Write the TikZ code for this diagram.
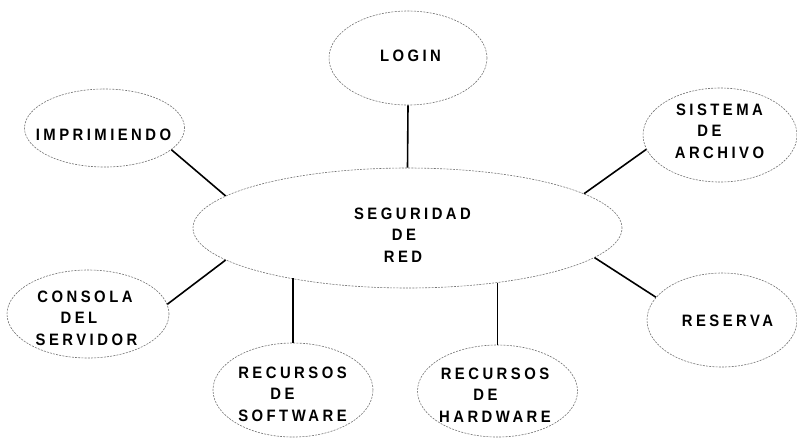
\documentclass[tikz,border=0pt]{standalone}
\usepackage{fontspec}
\setmainfont{Liberation Sans}
\newfontfamily\labfont[LetterSpace=21,FakeStretch=0.9]{Liberation Sans}
\usetikzlibrary{shapes.geometric}
\begin{document}
\begin{tikzpicture}[x=1pt,y=-1pt,
  bub/.style={ellipse, draw=black!55, line width=0.6pt, dash pattern=on 2pt off 1.2pt,
    inner sep=0pt},
  txt/.style={inner sep=0pt, align=center, font=\labfont\bfseries\fontsize{16.5}{21.5}\selectfont},
  link/.style={line width=1.6pt, draw=black}]
\useasboundingbox (0,0) rectangle (797,437);

% bubbles
\node[bub, minimum width=429pt, minimum height=120pt] (C) at (407.5,228) {};
\node[bub, minimum width=158pt, minimum height=94pt] (L) at (408,58) {};
\node[bub, minimum width=160pt, minimum height=78pt] (I) at (104.5,128) {};
\node[bub, minimum width=154pt, minimum height=94pt] (S) at (720,135) {};
\node[bub, minimum width=162pt, minimum height=88pt] (K) at (88,314) {};
\node[bub, minimum width=160pt, minimum height=94pt] (W) at (293,390) {};
\node[bub, minimum width=160pt, minimum height=92pt] (H) at (497.5,391) {};
\node[bub, minimum width=150pt, minimum height=94pt] (R) at (722,320) {};

% texts
\node[txt] (Ct) at (412.5,235) {SEGURIDAD\\DE\kern17pt\\RED\kern19pt};
\node[txt] (Lt) at (410.5,56) {LOGIN};
\node[txt] (It) at (103.5,134.5) {IMPRIMIENDO};
\node[txt] (St) at (719.5,131) {SISTEMA\\DE\kern20pt\\ARCHIVO};
\node[txt] (Kt) at (86.5,318.3) {CONSOLA\kern3pt\\DEL\kern15pt\\SERVIDOR};
\node[txt] (Wt) at (292.5,394) {RECURSOS\\DE\kern20pt\\SOFTWARE};
\node[txt] (Ht) at (495,395) {RECURSOS\\DE\kern19pt\\HARDWARE};
\node[txt] (Rt) at (727.5,321) {RESERVA};

% connectors
\draw[link] (L.south) -- (C.north);
\draw[link] (I.-18) -- (C.170.3);
\draw[link] (S.191.8) -- (C.11.2);
\draw[link] (K.7.8) -- (C.190.7);
\draw[link] (W.north) -- (C.203.9 -| W.north);
\draw[link] (H.north) -- (C.-31.2 -| H.north);
\draw[link] (R.161) -- (C.-9.8);
\end{tikzpicture}
\end{document}
